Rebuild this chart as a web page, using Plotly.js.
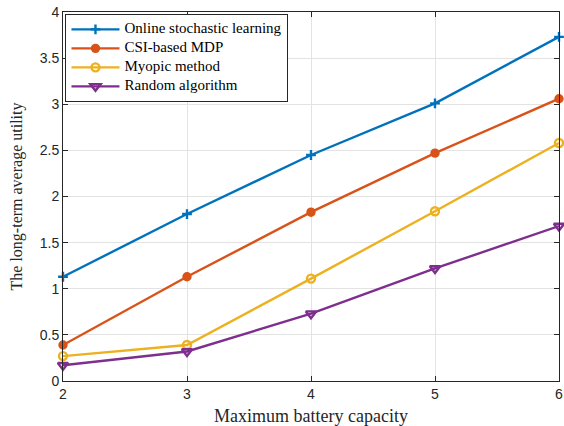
<!DOCTYPE html>
<html>
<head>
<meta charset="utf-8">
<script src="https://cdn.plot.ly/plotly-3.0.1.min.js"></script>
<style>html,body{margin:0;padding:0;background:#fff;}#chart{width:564px;height:426px;}</style>
</head>
<body>
<div id="chart"></div>
<script>
// Maximum battery capacity values on the x axis
const capacity = [2, 3, 4, 5, 6];

// Long-term average utility for each scheme
const onlineLearning = [1.13, 1.81, 2.45, 3.01, 3.73];
const csiMdp = [0.39, 1.13, 1.83, 2.47, 3.06];
const myopic = [0.27, 0.39, 1.11, 1.84, 2.58];
const randomAlg = [0.17, 0.32, 0.73, 1.22, 1.68];

const seriesNames = ['Online stochastic learning', 'CSI-based MDP', 'Myopic method', 'Random algorithm'];

// legend entries use a compact row height with a larger label font
const legendLabel = name => '<span style="font-size:15px">' + name + '</span>';

const traces = [
  {y: onlineLearning, color: '#0072BD', symbol: 'cross-thin-open', size: 7},
  {y: csiMdp, color: '#D95319', symbol: 'circle', size: 7},
  {y: myopic, color: '#EDB120', symbol: 'circle-open', size: 8},
  {y: randomAlg, color: '#7E2F8E', symbol: 'triangle-down-open', size: 9}
].map((s, i) => ({
  x: capacity,
  y: s.y,
  name: legendLabel(seriesNames[i]),
  type: 'scatter',
  mode: 'lines+markers',
  line: {color: s.color, width: 2.4},
  marker: {color: s.color, symbol: s.symbol, size: s.size, line: {color: s.color, width: 2.4}},
  cliponaxis: false
}));

const axisCommon = {
  showline: true,
  linecolor: '#262626',
  linewidth: 1,
  mirror: 'ticks',
  ticks: 'inside',
  ticklen: 5,
  tickcolor: '#262626',
  showgrid: true,
  gridcolor: '#e3e3e3',
  zeroline: false,
  tickfont: {family: 'Liberation Sans, Arial, sans-serif', size: 14, color: '#262626'}
};

const layout = {
  width: 564,
  height: 426,
  margin: {l: 63, r: 5, t: 12, b: 45},
  paper_bgcolor: '#fff',
  plot_bgcolor: '#fff',
  showlegend: true,
  xaxis: Object.assign({}, axisCommon, {
    range: [2, 6],
    tickvals: capacity,
    title: {text: 'Maximum battery capacity', standoff: 8,
      font: {family: 'Liberation Serif, Times New Roman, serif', size: 18, color: '#262626'}}
  }),
  yaxis: Object.assign({}, axisCommon, {
    range: [0, 4],
    dtick: 0.5,
    title: {text: 'The long-term average utility', standoff: 13,
      font: {family: 'Liberation Serif, Times New Roman, serif', size: 16, color: '#262626'}}
  }),
  legend: {
    x: 0.005, y: 0.995, xanchor: 'left', yanchor: 'top',
    bgcolor: '#fff',
    bordercolor: '#262626',
    borderwidth: 1,
    tracegroupgap: 0,
    itemwidth: 48,
    font: {family: 'Liberation Serif, Times New Roman, serif', size: 10.5, color: '#000'}
  }
};

Plotly.newPlot('chart', traces, layout, {displayModeBar: false, staticPlot: true});
</script>
</body>
</html>
